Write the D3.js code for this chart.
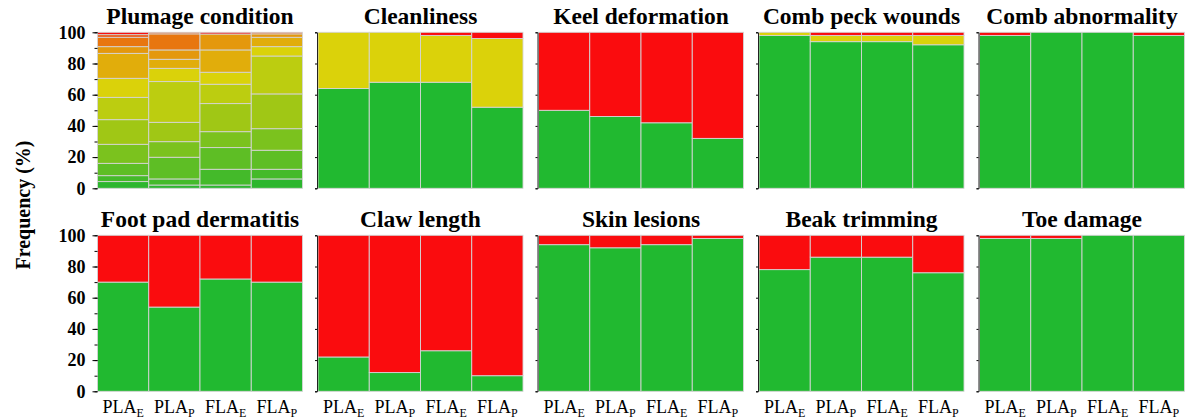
<!DOCTYPE html>
<html>
<head>
<meta charset="utf-8">
<script src="https://cdn.jsdelivr.net/npm/d3@7"></script>
<style>
  body { margin: 0; background: #fff; }
  text { font-family: "Liberation Serif", "Times New Roman", serif; }
</style>
</head>
<body>
<svg id="chart" width="1188" height="420"></svg>
<script>
// Housing groups (x categories), drawn as base + subscript
const groupBase = ["PLA", "PLA", "FLA", "FLA"];
const groupSub  = ["E", "P", "E", "P"];

// Y axis ticks
const yTicks = [0, 20, 40, 60, 80, 100];
const yMinorTicks = [0, 10, 20, 30, 40, 50, 60, 70, 80, 90, 100];

// Plumage condition score levels (0 = best ... 11 = worst), % per group
const plumageColors = ["#2cb62e", "#44ba2a", "#5ebe25", "#7bc21e", "#a0c715", "#bccd10",
                       "#dad20a", "#e1ad0b", "#e4980d", "#e8760f", "#eb5a12", "#f81010"];
const plumagePLAE = [4.3, 3.8, 7.9, 12.2, 15.8, 14.3, 12.2, 16.0, 4.3, 6.0, 1.7, 1.5];
const plumagePLAP = [2.1, 3.9, 13.9, 10.0, 12.4, 26.1, 8.5, 5.8, 6.0, 10.3, 1.0, 0.0];
const plumageFLAE = [2.1, 10.1, 13.9, 10.2, 18.0, 12.4, 7.7, 14.3, 10.2, 0.0, 0.0, 1.1];
const plumageFLAP = [6.0, 6.2, 12.2, 13.8, 22.3, 24.3, 6.0, 6.0, 2.2, 0.0, 1.0, 0.0];

// Three-level scores: [no, mild, severe] in % per group
const threeColors = ["#21b930", "#dbd20a", "#fa0c0e"];
const cleanliness     = [[64, 36, 0], [68, 32, 0], [68, 30, 2], [52, 44, 4]];
const keelDeformation = [[50, 0, 50], [46, 0, 54], [42, 0, 58], [32, 0, 68]];
const combPeckWounds  = [[98, 2, 0], [94, 4, 2], [94, 4, 2], [92, 6, 2]];
const combAbnormality = [[98, 0, 2], [100, 0, 0], [100, 0, 0], [98, 0, 2]];
const footPadDermatitis = [[70, 0, 30], [54, 0, 46], [72, 0, 28], [70, 0, 30]];
const clawLength      = [[22, 0, 78], [12, 0, 88], [26, 0, 74], [10, 0, 90]];
const skinLesions     = [[94, 0, 6], [92, 0, 8], [94, 0, 6], [98, 0, 2]];
const beakTrimming    = [[78, 0, 22], [86, 0, 14], [86, 0, 14], [76, 0, 24]];
const toeDamage       = [[98, 0, 2], [98, 0, 2], [100, 0, 0], [100, 0, 0]];

const panelTitles = ["Plumage condition", "Cleanliness", "Keel deformation", "Comb peck wounds",
                     "Comb abnormality", "Foot pad dermatitis", "Claw length", "Skin lesions",
                     "Beak trimming", "Toe damage"];
const panelData = [
  [plumagePLAE, plumagePLAP, plumageFLAE, plumageFLAP],
  cleanliness, keelDeformation, combPeckWounds, combAbnormality,
  footPadDermatitis, clawLength, skinLesions, beakTrimming, toeDamage
];
const panelColors = [plumageColors, threeColors, threeColors, threeColors, threeColors,
                     threeColors, threeColors, threeColors, threeColors, threeColors];

// Layout
const svg = d3.select("#chart");
const colX = [97.5, 318, 538.5, 759, 979.5];
const rowY = [32.3, 235.3];
const pw = 205, ph = 156;

const x = d3.scaleBand().domain(d3.range(groupBase.length)).range([0, pw]).padding(0);
const y = d3.scaleLinear().domain([0, 100]).range([ph, 0]);

panelData.forEach((groups, p) => {
  const col = p % 5, row = Math.floor(p / 5);
  const g = svg.append("g").attr("transform", `translate(${colX[col]},${rowY[row]})`);
  const colors = panelColors[p];

  // stacked segments
  groups.forEach((vals, gi) => {
    let cum = 0;
    const segs = vals.map((v, li) => { const s = { y0: cum, y1: cum + v, li }; cum += v; return s; })
                     .filter(s => s.y1 > s.y0);
    g.selectAll(null).data(segs).enter().append("rect")
      .attr("x", x(gi))
      .attr("width", x.bandwidth())
      .attr("y", s => y(s.y1))
      .attr("height", s => y(s.y0) - y(s.y1))
      .attr("fill", s => colors[s.li])
      .attr("stroke", "#d4d4d4")
      .attr("stroke-width", 0.9);
  });

  // y axis
  if (col === 0) {
    const minor = g.append("g").call(d3.axisLeft(y).tickValues(yMinorTicks).tickSize(3).tickFormat(""));
    minor.select(".domain").remove();
    minor.selectAll("line").attr("stroke", "#000");
    const major = g.append("g").call(d3.axisLeft(y).tickValues(yTicks).tickSize(5).tickPadding(7));
    major.select(".domain").remove();
    major.selectAll("line").attr("stroke", "#000");
    major.selectAll("text")
      .attr("font-family", "Liberation Serif, serif")
      .attr("font-weight", "bold")
      .attr("font-size", 18)
      .attr("fill", "#000");
  } else {
    const ax = g.append("g").attr("transform", "translate(-1,0)")
      .call(d3.axisLeft(y).tickValues(yTicks).tickSize(2).tickFormat(""));
    ax.select(".domain").attr("stroke", "#222");
    ax.selectAll("line").attr("stroke", "#000");
  }

  // title
  g.append("text")
    .attr("x", pw / 2)
    .attr("y", -8)
    .attr("text-anchor", "middle")
    .attr("font-weight", "bold")
    .attr("font-size", 23.5)
    .text(panelTitles[p]);

  // x labels on bottom row
  if (row === 1) {
    groupBase.forEach((b, gi) => {
      const t = g.append("text")
        .attr("x", x(gi) + x.bandwidth() / 2)
        .attr("y", ph + 22)
        .attr("text-anchor", "middle")
        .attr("font-size", 18);
      t.append("tspan").text(b);
      t.append("tspan").attr("font-size", 12).attr("dy", 4).text(groupSub[gi]);
    });
  }
});

// y axis title
svg.append("text")
  .attr("transform", "translate(30,205) rotate(-90)")
  .attr("text-anchor", "middle")
  .attr("font-weight", "bold")
  .attr("font-size", 20)
  .text("Frequency (%)");
</script>
</body>
</html>
